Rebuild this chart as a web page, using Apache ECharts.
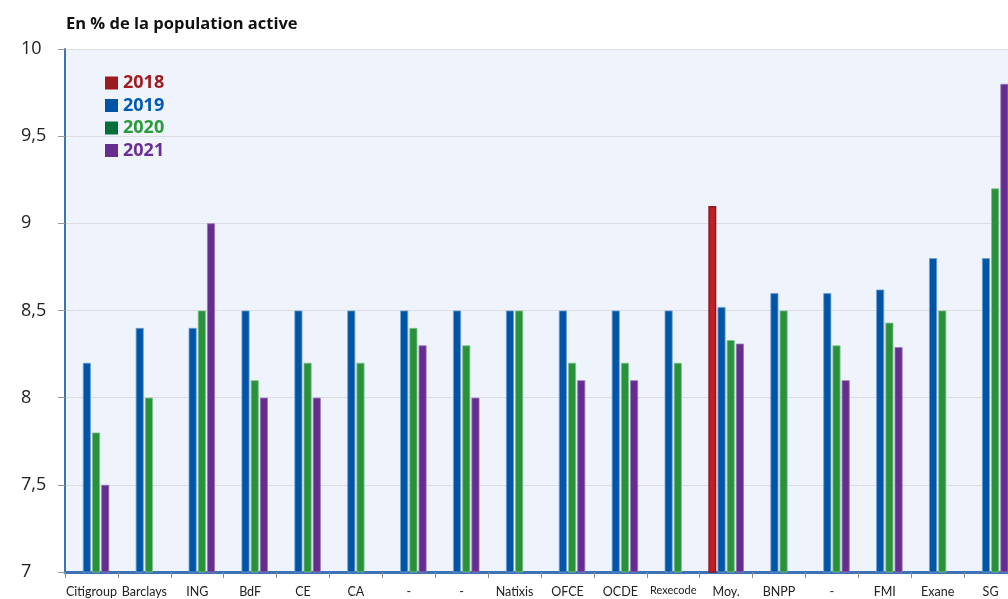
<!DOCTYPE html>
<html><head><meta charset="utf-8">
<script src="https://cdn.jsdelivr.net/npm/echarts@6/dist/echarts.min.js"></script>
<style>html,body{margin:0;padding:0;background:#fff;overflow:hidden;width:1008px;height:599px}#c{width:1020px;height:599px}</style>
</head><body><div id="c"></div>
<script>
const categories = ['Citigroup','Barclays','ING','BdF','CE','CA','-','-','Natixis','OFCE','OCDE','Rexecode','Moy.','BNPP','-','FMI','Exane','SG'];
const years = ['2018','2019','2020','2021'];
const s2018 = [null,null,null,null,null,null,null,null,null,null,null,null,9.1,null,null,null,null,null];
const s2019 = [8.2,8.4,8.4,8.5,8.5,8.5,8.5,8.5,8.5,8.5,8.5,8.5,8.52,8.6,8.6,8.62,8.8,8.8];
const s2020 = [7.8,8.0,8.5,8.1,8.2,8.2,8.4,8.3,8.5,8.2,8.2,8.2,8.33,8.5,8.3,8.43,8.5,9.2];
const s2021 = [7.5,null,9.0,8.0,8.0,null,8.3,8.0,null,8.1,8.1,null,8.31,null,8.1,8.29,null,9.8];
const yTicks = [7,7.5,8,8.5,9,9.5,10];

const barColors = ['#c01f27','#0055a6','#2a913b','#662d91'];
const barBorders = ['#8e1a1f','#6f9fd6','#7cc48a','#9a78b8'];
const iconColors = ['#9b1b1f','#0053a5','#006f3c','#662d91'];
const textColors = ['#a01c22','#0059b3','#2a9a3c','#6a2e96'];
const allData = [s2018,s2019,s2020,s2021];

const chart = echarts.init(document.getElementById('c'), null, {renderer:'canvas'});
chart.setOption({
  animation:false,
  title:{text:'En % de la population active', left:61, top:11,
    textStyle:{fontFamily:'Open Sans', fontSize:16.5, fontWeight:'bold', color:'#111'}},
  legend:{orient:'vertical', left:100, top:69, itemWidth:13, itemHeight:13, itemGap:4.5,
    icon:'rect',
    data: years.map((y,i)=>({name:y, itemStyle:{color:iconColors[i], borderWidth:0},
      textStyle:{color:textColors[i], fontSize:18, fontWeight:'bold', fontFamily:'Open Sans', padding:[0,0,0,0]}}))},
  grid:{left:65, top:49, width:952, height:523, show:true, backgroundColor:'#eff3fb', borderWidth:0, containLabel:false},
  xAxis:{type:'category', data: categories.map(c=> c==='Rexecode' ? {value:c, textStyle:{fontSize:11}} : c),
    axisLine:{lineStyle:{color:'#3d72b4', width:3}},
    axisTick:{show:true, length:6, lineStyle:{color:'#888', width:1}},
    axisLabel:{interval:0, margin:13, fontSize:12.5, color:'#222', fontFamily:'Lato, sans-serif'}},
  yAxis:{type:'value', min:yTicks[0], max:yTicks[yTicks.length-1], interval:0.5,
    axisLine:{show:true, lineStyle:{color:'#3d72b4', width:2}},
    axisTick:{show:true, length:7, lineStyle:{color:'#999'}},
    splitLine:{lineStyle:{color:'#dcdde2', width:1}},
    axisLabel:{align:'left', margin:44, fontSize:18, color:'#222', fontFamily:'Open Sans',
      formatter:v=>String(v).replace('.',',')}},
  series: years.map((y,i)=>({
    name:y, type:'bar', data:allData[i], barWidth:8, barGap:'15%',
    itemStyle:{color:barColors[i], borderColor:barBorders[i], borderWidth: i===0?1.5:0.8}
  }))
});
</script></body></html>
